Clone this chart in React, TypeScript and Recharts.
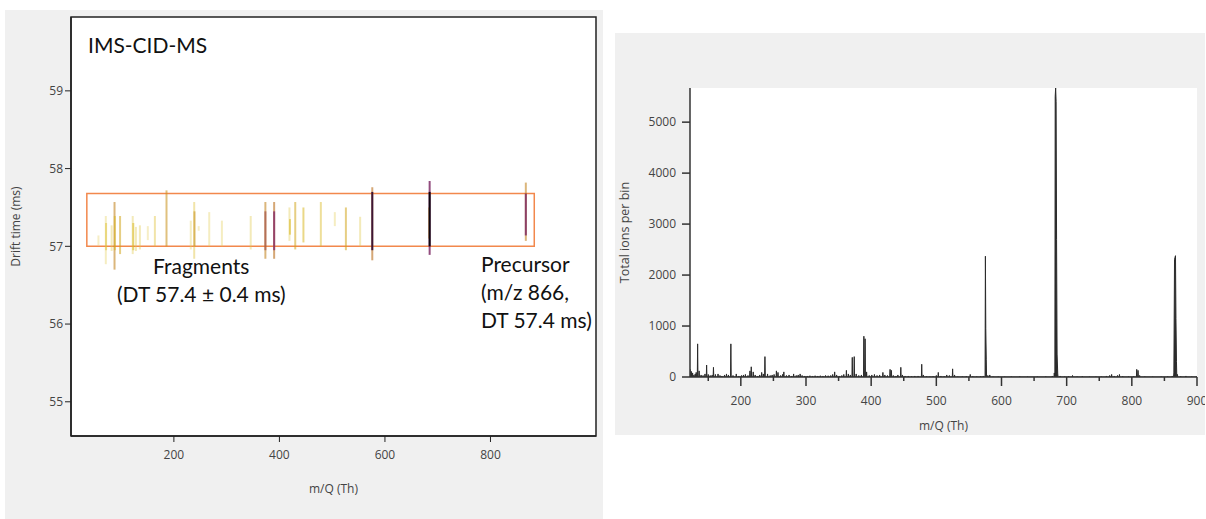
import React from 'react';
import {
  Area,
  AreaChart,
  CartesianGrid,
  ComposedChart,
  Label,
  Line,
  ReferenceArea,
  XAxis,
  YAxis,
} from 'recharts';

// IMS-CID-MS map: one stroke per ion track (m/Q, drift-time span, relative intensity 0..1)
const trackMz = [
  57, 71, 71.5, 82, 87.5, 88, 98, 122, 123, 128, 135.6, 150.6, 164, 186, 232, 238.5, 239,
  247, 267, 291, 345.6, 373.4, 373.4, 390, 390, 419, 420, 430, 445.5, 478.5, 505, 526, 553,
  576, 576, 683.5, 684.7, 684.7, 867, 867,
];
const trackDtLow = [
  57.01, 56.77, 56.95, 56.94, 56.7, 56.95, 56.9, 56.9, 56.95, 56.94, 56.96, 57.08, 57.0,
  57.0, 56.96, 56.84, 57.0, 57.2, 57.0, 57.0, 56.96, 56.84, 56.95, 56.84, 56.95, 57.07,
  57.15, 56.96, 57.05, 57.0, 57.26, 56.95, 57.0, 56.82, 56.95, 57.1, 56.89, 57.0, 57.07,
  57.14,
];
const trackDtHigh = [
  57.14, 57.39, 57.3, 57.27, 57.57, 57.39, 57.39, 57.39, 57.3, 57.25, 57.27, 57.26, 57.39,
  57.72, 57.33, 57.57, 57.45, 57.26, 57.44, 57.33, 57.39, 57.57, 57.45, 57.57, 57.45, 57.5,
  57.35, 57.57, 57.5, 57.57, 57.44, 57.5, 57.38, 57.76, 57.7, 57.5, 57.84, 57.7, 57.82,
  57.68,
];
const trackLevel = [
  0.1, 0.12, 0.25, 0.15, 0.45, 0.3, 0.35, 0.15, 0.3, 0.15, 0.15, 0.1, 0.2, 0.4, 0.12, 0.2,
  0.4, 0.1, 0.12, 0.12, 0.15, 0.45, 0.6, 0.5, 0.72, 0.15, 0.3, 0.35, 0.3, 0.25, 0.12, 0.35,
  0.15, 0.5, 0.92, 0.3, 0.75, 1, 0.45, 0.75,
];

const boxMz = [35, 883];
const boxDt = [57.0, 57.68];
const mapMzDomain = [5, 1000];
const dtDomain = [54.56, 59.95];
const dtTicks = [55, 56, 57, 58, 59];
const mapMzTicks = [200, 400, 600, 800];

// summed mass spectrum (peak m/Q, total ions per bin)
const specMz = [
  122, 124, 126, 128, 130, 131.5, 133.7, 136, 139, 142, 145, 147.5, 150, 153, 156, 158, 161,
  165, 168, 171, 175, 178, 181, 184.7, 188, 193, 197, 201, 204, 207, 211, 214, 216, 219, 222,
  226, 229, 232, 234.5, 237, 241, 245, 248, 251, 254.6, 257, 261, 264, 266, 270, 274, 278,
  281, 285, 288, 291, 294, 298, 302, 306, 310, 314, 318, 322, 326, 330, 334, 338, 341, 344,
  347, 351, 355, 358, 362, 365, 368, 371, 374, 377, 381, 385, 388.8, 390.7, 393, 397, 401,
  405, 409, 413, 418, 421, 425, 429, 431, 434, 438, 441, 445.5, 448, 452, 457, 462, 467, 472,
  477.6, 480, 485, 490, 495, 500, 503, 507, 512, 516, 520, 525, 528, 533, 540, 546, 552, 556,
  562, 568, 572, 575.3, 575.9, 576.6, 579, 582, 587, 595, 605, 615, 628, 640, 655, 668, 678,
  681, 682.4, 683.1, 683.8, 684.5, 685.3, 686.3, 690, 697, 703, 709, 716, 724, 735, 745, 753,
  761, 766, 769, 773, 778, 781, 786, 795, 803, 807.5, 809.5, 812, 820, 832, 845, 855, 862,
  864.5, 865.5, 866.3, 867, 867.7, 868.5, 870, 875, 883, 892, 899,
];
const specIons = [
  150, 110, 80, 40, 60, 90, 650, 120, 40, 30, 60, 235, 50, 30, 40, 190, 50, 60, 30, 20, 40,
  60, 40, 650, 30, 60, 20, 30, 40, 50, 30, 120, 200, 100, 40, 20, 40, 90, 60, 400, 60, 30,
  40, 50, 120, 90, 30, 50, 100, 30, 40, 20, 60, 30, 40, 60, 30, 20, 20, 25, 20, 25, 20, 25,
  20, 30, 25, 30, 50, 100, 40, 20, 30, 50, 130, 60, 40, 385, 400, 60, 30, 40, 800, 750, 100,
  30, 40, 50, 30, 40, 90, 40, 30, 150, 130, 30, 20, 40, 190, 40, 20, 20, 15, 20, 20, 250, 40,
  15, 10, 15, 30, 90, 20, 15, 40, 30, 160, 40, 10, 10, 15, 50, 15, 10, 15, 20, 2370, 950,
  350, 30, 40, 10, 10, 8, 10, 12, 8, 10, 12, 20, 80, 5500, 5670, 5400, 2700, 450, 60, 20,
  10, 15, 30, 10, 15, 8, 10, 10, 20, 30, 50, 20, 30, 50, 15, 10, 15, 150, 130, 30, 10, 8,
  10, 12, 20, 80, 2300, 2350, 2380, 1150, 300, 50, 15, 20, 10, 10,
];
const specMzDomain = [122, 900];
const ionDomain = [0, 5670];
const ionTicks = [0, 1000, 2000, 3000, 4000, 5000];
const specMzTicks = [150, 200, 250, 300, 350, 400, 450, 500, 550, 600, 650, 700, 750, 800, 850, 900];

// yellow -> orange -> purple -> black
const heatStops = [
  [0, 238, 226, 140],
  [0.3, 214, 178, 20],
  [0.5, 190, 120, 45],
  [0.7, 140, 45, 105],
  [0.85, 85, 20, 80],
  [1, 15, 5, 15],
];
function heat(v: number) {
  let i = 0;
  while (i < heatStops.length - 2 && v > heatStops[i + 1][0]) i++;
  const a = heatStops[i];
  const b = heatStops[i + 1];
  const t = Math.min(1, Math.max(0, (v - a[0]) / (b[0] - a[0])));
  const c = [1, 2, 3].map((k) => Math.round(a[k] + (b[k] - a[k]) * t));
  return `rgba(${c[0]},${c[1]},${c[2]},${(0.3 + 0.7 * v).toFixed(2)})`;
}

const tracks = trackMz.map((mz, i) => ({
  id: i,
  color: heat(trackLevel[i]),
  points: [
    { mz, dt: trackDtLow[i] },
    { mz, dt: trackDtHigh[i] },
  ],
}));

// stick profile: zero baseline around isolated peaks, clusters stay joined
const spectrum: { mz: number; ions: number }[] = [];
specMz.forEach((mz, i) => {
  if (i === 0 || mz - specMz[i - 1] > 1.2) spectrum.push({ mz: Math.max(mz - 0.5, 122), ions: 0 });
  spectrum.push({ mz, ions: specIons[i] });
  if (i === specMz.length - 1 || specMz[i + 1] - mz > 1.2) spectrum.push({ mz: mz + 0.5, ions: 0 });
});

const axisText = { fontSize: 12, fill: '#444' };

const SpecTick = (props: any) => {
  const { x, y, payload } = props;
  const major = payload.value % 100 === 0;
  return (
    <g>
      <line x1={x} y1={y} x2={x} y2={y + (major ? 9 : 4)} stroke="#333" strokeWidth={1.5} />
      {major && (
        <text x={x} y={y + 28} textAnchor="middle" fontSize={12} fill="#444">
          {payload.value}
        </text>
      )}
    </g>
  );
};

export default function App() {
  return (
    <div
      style={{
        position: 'relative',
        width: 1206,
        height: 519,
        background: '#fff',
        fontFamily: '"Open Sans", sans-serif',
        overflow: 'hidden',
      }}
    >
      <style>{'body{margin:0}'}</style>
      <div style={{ position: 'absolute', left: 5, top: 10, width: 598, height: 509, background: '#f0f0f0' }} />
      <div style={{ position: 'absolute', left: 615, top: 33, width: 590, height: 402, background: '#f0f0f0' }} />

      <div style={{ position: 'absolute', left: 0, top: 0 }}>
        <ComposedChart width={603} height={519} margin={{ top: 17, right: 7, bottom: 23, left: 11 }}>
          <CartesianGrid fill="#fff" horizontal={false} vertical={false} />
          <XAxis
            dataKey="mz"
            type="number"
            domain={mapMzDomain}
            allowDataOverflow
            ticks={mapMzTicks}
            height={60}
            tickSize={6}
            tickMargin={8}
            tick={axisText}
            axisLine={{ stroke: '#222', strokeWidth: 1.5 }}
            tickLine={{ stroke: '#222' }}
          >
            <Label value="m/Q (Th)" position="insideBottom" offset={3} style={{ fontSize: 12, fill: '#444' }} />
          </XAxis>
          <YAxis
            type="number"
            domain={dtDomain}
            allowDataOverflow
            ticks={dtTicks}
            width={60}
            tickSize={6}
            tickMargin={2}
            tick={axisText}
            axisLine={{ stroke: '#222', strokeWidth: 1.5 }}
            tickLine={{ stroke: '#222' }}
          >
            <Label
              value="Drift time (ms)"
              angle={-90}
              position="insideLeft"
              offset={5}
              style={{ fontSize: 12, fill: '#444', textAnchor: 'middle' }}
            />
          </YAxis>
          <ReferenceArea
            x1={mapMzDomain[0]}
            x2={mapMzDomain[1]}
            y1={dtDomain[0]}
            y2={dtDomain[1]}
            fill="none"
            stroke="#222"
            strokeWidth={1.5}
            fillOpacity={0}
          />
          <ReferenceArea
            x1={boxMz[0]}
            x2={boxMz[1]}
            y1={boxDt[0]}
            y2={boxDt[1]}
            fill="none"
            fillOpacity={0}
            stroke="#f2884c"
            strokeWidth={1.5}
          />
          {tracks.map((t) => (
            <Line
              key={t.id}
              data={t.points}
              dataKey="dt"
              stroke={t.color}
              strokeWidth={2}
              dot={false}
              activeDot={false}
              isAnimationActive={false}
            />
          ))}
        </ComposedChart>
      </div>

      <svg
        width={603}
        height={519}
        style={{ position: 'absolute', left: 0, top: 0, pointerEvents: 'none' }}
        fontFamily="Lato, sans-serif"
        fontSize={21}
        fill="#111"
      >
        <text x={88} y={53}>IMS-CID-MS</text>
        <text x={153} y={274}>Fragments</text>
        <text x={117} y={302}>(DT 57.4 ± 0.4 ms)</text>
        <text x={481} y={272}>Precursor</text>
        <text x={481} y={300}>(m/z 866,</text>
        <text x={481} y={328}>DT 57.4 ms)</text>
      </svg>

      <div style={{ position: 'absolute', left: 615, top: 33 }}>
        <AreaChart width={590} height={402} data={spectrum} margin={{ top: 55, right: 8, bottom: 0, left: 5 }}>
          <CartesianGrid fill="#fff" horizontal={false} vertical={false} />
          <XAxis
            dataKey="mz"
            type="number"
            domain={specMzDomain}
            allowDataOverflow
            ticks={specMzTicks}
            interval={0}
            height={58}
            tickSize={0}
            tickMargin={0}
            tickLine={false}
            tick={<SpecTick />}
            axisLine={{ stroke: '#333', strokeWidth: 1.5 }}
          >
            <Label value="m/Q (Th)" position="insideBottom" offset={5} style={{ fontSize: 12, fill: '#444' }} />
          </XAxis>
          <YAxis
            type="number"
            domain={ionDomain}
            allowDataOverflow
            ticks={ionTicks}
            width={70}
            tickSize={8}
            tickMargin={6}
            tick={axisText}
            axisLine={{ stroke: '#333', strokeWidth: 1.5 }}
            tickLine={{ stroke: '#333', strokeWidth: 1.5 }}
          >
            <Label
              value="Total ions per bin"
              angle={-90}
              position="insideLeft"
              offset={5}
              style={{ fontSize: 12.5, fill: '#444', textAnchor: 'middle' }}
            />
          </YAxis>
          <Area
            type="linear"
            dataKey="ions"
            baseValue={0}
            stroke="#2b2b2b"
            strokeWidth={1}
            fill="#2b2b2b"
            fillOpacity={1}
            dot={false}
            activeDot={false}
            isAnimationActive={false}
          />
        </AreaChart>
      </div>
    </div>
  );
}
